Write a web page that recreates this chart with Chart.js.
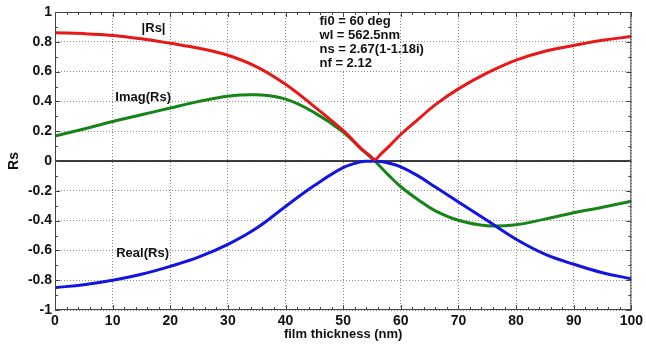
<!DOCTYPE html>
<html><head><meta charset="utf-8">
<script src="https://cdn.jsdelivr.net/npm/chart.js@4"></script>
<style>html,body{margin:0;padding:0;background:#fff}canvas{display:block}</style>
</head><body>
<canvas id="c" width="646" height="345"></canvas>
<script>
// ---- data ----
const thickness = [0,5,10,15,20,25,30,35,40,45,50,53,54.5,55.5,56.5,58,60,63,66,70,75,80,85,90,95,100];
const absRs  = [0.86,0.855,0.843,0.82,0.79,0.757,0.71,0.632,0.515,0.365,0.205,0.088,0.04,0.01,0.045,0.10,0.178,0.279,0.378,0.484,0.591,0.677,0.737,0.775,0.81,0.835];
const imagRs = [0.168,0.215,0.265,0.31,0.356,0.40,0.435,0.444,0.415,0.325,0.195,0.085,0.035,0.0,-0.04,-0.10,-0.173,-0.26,-0.335,-0.398,-0.435,-0.428,-0.39,-0.347,-0.31,-0.27];
const realRs = [-0.85,-0.83,-0.80,-0.76,-0.707,-0.644,-0.56,-0.45,-0.305,-0.165,-0.045,-0.006,-0.002,0.0,-0.003,-0.015,-0.04,-0.10,-0.175,-0.275,-0.40,-0.525,-0.625,-0.693,-0.75,-0.79];
const zeroX = [0,100];
const zeroY = [0,0];
const xTicks = [0,10,20,30,40,50,60,70,80,90,100];
const yTicks = [-1,-0.8,-0.6,-0.4,-0.2,0,0.2,0.4,0.6,0.8,1];
const seriesNames = ['|Rs|','Real(Rs)','Imag(Rs)'];
const paramLines = ['fi0 = 60 deg','wl = 562.5nm','ns = 2.67(1-1.18i)','nf = 2.12'];
const xTitle = 'film thickness (nm)';
const yTitle = 'Rs';

const pts = (xs, ys) => xs.map((x, i) => ({x: x, y: ys[i]}));
const FONT = '"Liberation Sans", Arial, Helvetica, sans-serif';

const decor = {
  id: 'decor',
  beforeDatasetsDraw(chart) {
    const {ctx, scales: {x, y}} = chart;
    ctx.save();
    ctx.fillStyle = '#fff';
    const l = x.getPixelForValue(45.4), r = x.getPixelForValue(59.7);
    const t = y.getPixelForValue(0.985), b = y.getPixelForValue(0.605);
    ctx.fillRect(l, t, r - l, b - t);
    ctx.restore();
  },
  afterDatasetsDraw(chart) {
    const {ctx, chartArea: a, scales: {x, y}} = chart;
    ctx.save();
    ctx.strokeStyle = '#444';
    ctx.lineWidth = 1;
    ctx.strokeRect(a.left + 0.5, a.top + 0.5, a.right - a.left - 1, a.bottom - a.top - 1);
    ctx.beginPath();
    for (let v = 0; v <= 100.001; v += 2) {
      const px = Math.round(x.getPixelForValue(v)) + 0.5;
      const len = (Math.abs(v % 10) < 0.001) ? 5 : 3;
      ctx.moveTo(px, a.bottom); ctx.lineTo(px, a.bottom - len);
      ctx.moveTo(px, a.top); ctx.lineTo(px, a.top + len);
    }
    for (let k = -10; k <= 10; k++) {
      const v = k / 10;
      const py = Math.round(y.getPixelForValue(v)) + 0.5;
      const len = (k % 2 === 0) ? 5 : 3;
      ctx.moveTo(a.left, py); ctx.lineTo(a.left + len, py);
      ctx.moveTo(a.right, py); ctx.lineTo(a.right - len, py);
    }
    ctx.stroke();
    ctx.fillStyle = '#111';
    ctx.font = 'bold 13px ' + FONT;
    ctx.textBaseline = 'middle';
    ctx.textAlign = 'center';
    ctx.fillText(seriesNames[0], x.getPixelForValue(17.1), y.getPixelForValue(0.893));
    ctx.fillText(seriesNames[2], x.getPixelForValue(15.3), y.getPixelForValue(0.425));
    ctx.fillText(seriesNames[1], x.getPixelForValue(15.2), y.getPixelForValue(-0.62));
    ctx.textAlign = 'left';
    const tx = x.getPixelForValue(45.9);
    const ly = [0.937, 0.843, 0.748, 0.653];
    paramLines.forEach((s, i) => ctx.fillText(s, tx, y.getPixelForValue(ly[i])));
    ctx.restore();
  }
};

new Chart(document.getElementById('c'), {
  type: 'line',
  data: {
    datasets: [
      {label: seriesNames[0], data: pts(thickness, absRs), borderColor: '#e81818', borderWidth: 3},
      {label: seriesNames[1], data: pts(thickness, realRs), borderColor: '#1414e0', borderWidth: 3},
      {label: seriesNames[2], data: pts(thickness, imagRs), borderColor: '#168416', borderWidth: 3},
      {label: 'zero', data: pts(zeroX, zeroY), borderColor: '#000', borderWidth: 1.5, tension: 0}
    ]
  },
  options: {
    responsive: false,
    animation: false,
    devicePixelRatio: 1,
    layout: {padding: {top: 12, right: 6, left: 0, bottom: 0}},
    elements: {
      point: {radius: 0, hoverRadius: 0},
      line: {tension: 0.4, fill: false, borderCapStyle: 'round', borderJoinStyle: 'round'}
    },
    plugins: {legend: {display: false}, tooltip: {enabled: false}},
    scales: {
      x: {
        type: 'linear', min: 0, max: 100,
        afterBuildTicks: s => { s.ticks = xTicks.map(v => ({value: v})); },
        afterFit: s => { s.height = 35; },
        grid: {color: '#8a8a8a', lineWidth: 1, drawTicks: false},
        border: {display: false, dash: [1, 2]},
        ticks: {color: '#111', padding: 3, maxRotation: 0, autoSkip: false,
                font: {family: FONT, size: 14, weight: 'bold'}, callback: v => String(v)},
        title: {display: true, text: xTitle, color: '#111', padding: {top: 0, bottom: 3},
                font: {family: FONT, size: 13, weight: 'bold'}}
      },
      y: {
        type: 'linear', min: -1, max: 1,
        afterBuildTicks: s => { s.ticks = yTicks.map(v => ({value: v})); },
        afterFit: s => { s.width = 55; },
        grid: {color: '#8a8a8a', lineWidth: 1, drawTicks: false},
        border: {display: false, dash: [1, 2]},
        ticks: {color: '#111', padding: 3, autoSkip: false,
                font: {family: FONT, size: 14, weight: 'bold'}, callback: v => String(v)},
        title: {display: true, text: yTitle, color: '#111', padding: {top: 6, bottom: 0},
                font: {family: FONT, size: 14, weight: 'bold'}}
      }
    }
  },
  plugins: [decor]
});
</script>
</body></html>
